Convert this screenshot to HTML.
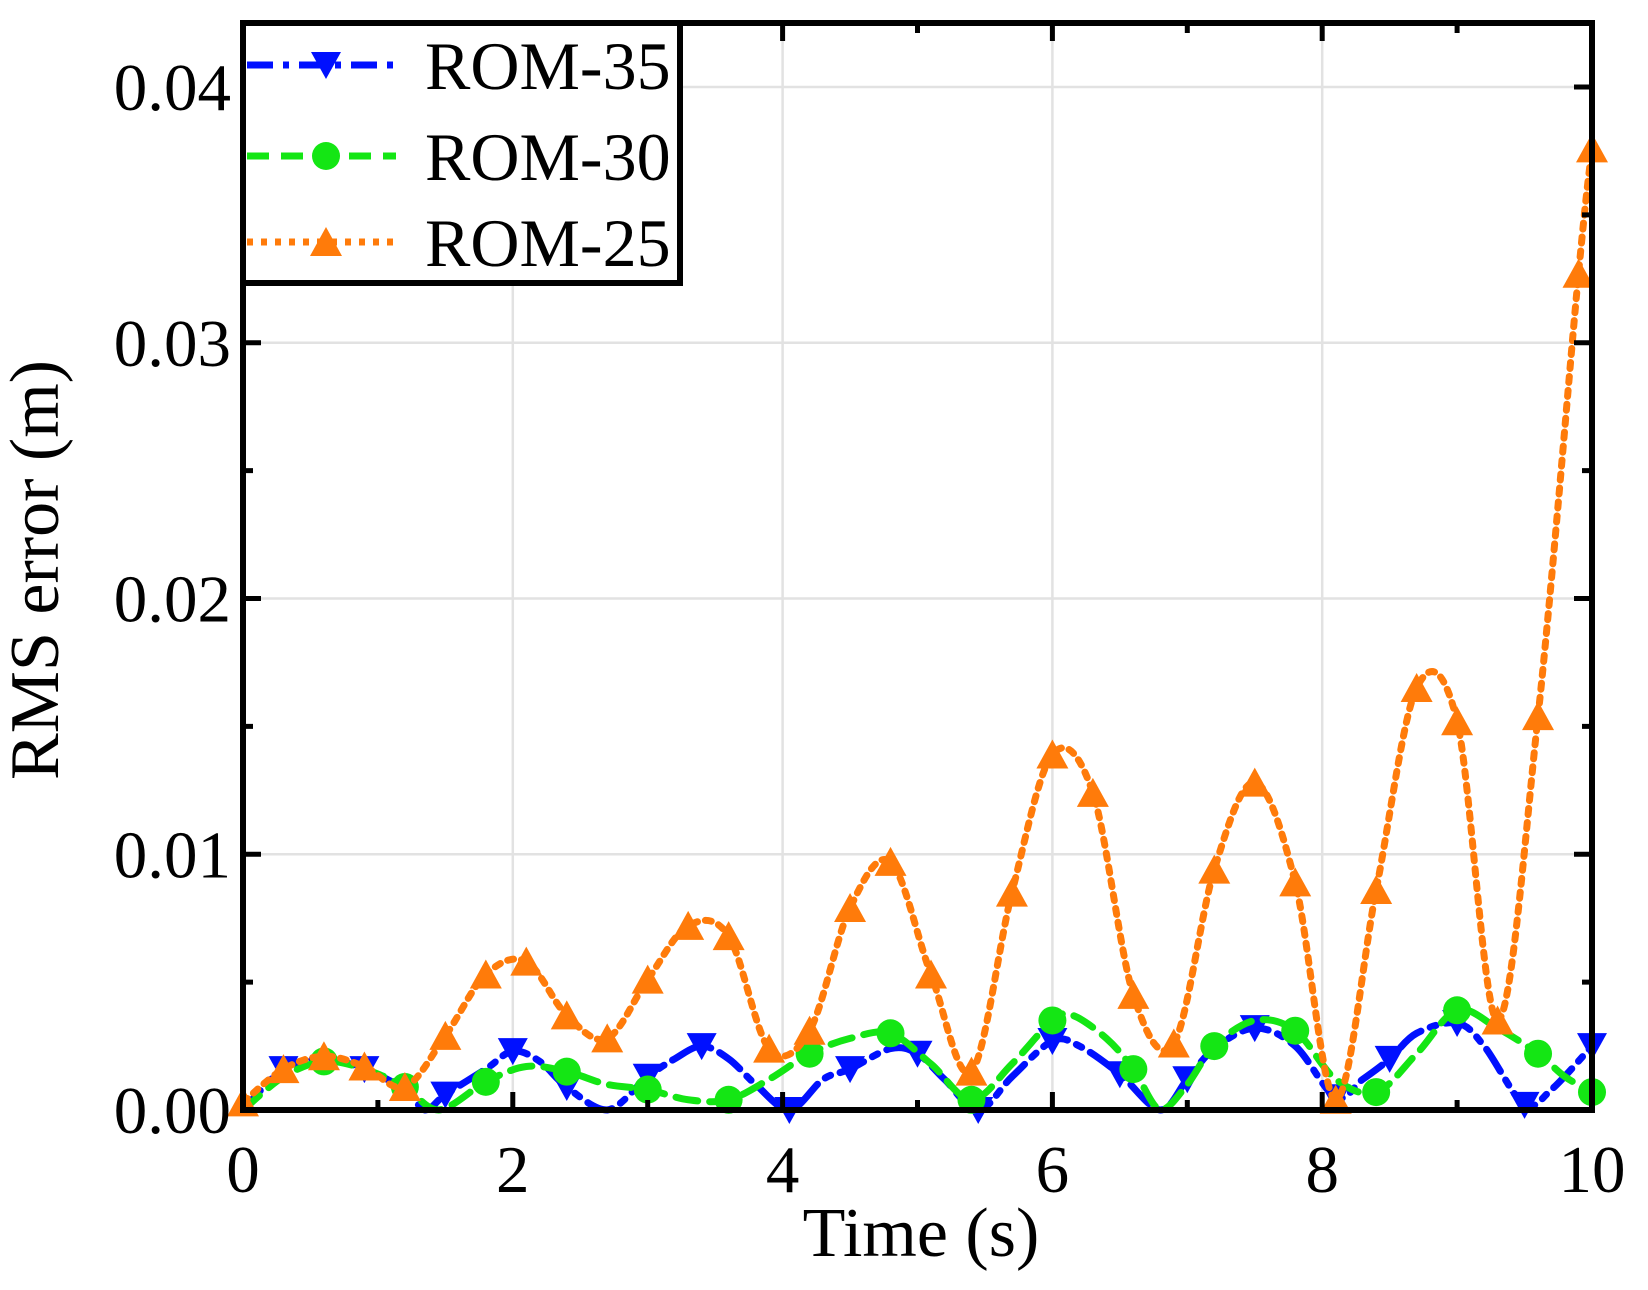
<!DOCTYPE html>
<html><head><meta charset="utf-8"><style>
html,body{margin:0;padding:0;background:#fff;}
svg{display:block;font-family:"Liberation Serif",serif;}
</style></head><body>
<svg id="chart" width="1648" height="1290" viewBox="0 0 1648 1290">
<g id="grid"></g>
<g id="series"></g>
<g id="axes"></g>
<text x="921" y="1256" font-size="70" text-anchor="middle">Time (s)</text>
<text transform="translate(58,570) rotate(-90)" font-size="70" text-anchor="middle">RMS error (m)</text>
<g id="legend"></g>
</svg>
<script>
const xTicks=[0,2,4,6,8,10];
const yTicks=[0,0.01,0.02,0.03,0.04];
const yTickLabels=["0.00","0.01","0.02","0.03","0.04"];
const rom25X=[0,0.3,0.6,0.9,1.2,1.5,1.8,2.1,2.4,2.7,3.0,3.3,3.6,3.9,4.2,4.5,4.8,5.1,5.4,5.7,6.0,6.3,6.6,6.9,7.2,7.5,7.8,8.1,8.4,8.7,9.0,9.3,9.6,9.9,10];
const rom25Y=[0.0003,0.0016,0.0021,0.0017,0.0009,0.0029,0.0053,0.0058,0.0037,0.0028,0.0051,0.0072,0.0068,0.0024,0.0031,0.0079,0.0097,0.0053,0.0015,0.0085,0.0139,0.0124,0.0045,0.0026,0.0094,0.0128,0.0089,0.0004,0.0086,0.0165,0.0152,0.0035,0.0154,0.0327,0.0376];
const rom35X=[0,0.3,0.6,0.9,1.2,1.35,1.5,1.8,2.0,2.2,2.4,2.7,3.0,3.2,3.4,3.6,3.8,4.05,4.3,4.5,4.8,5.0,5.2,5.45,5.7,6.0,6.2,6.5,6.8,7.0,7.2,7.5,7.8,8.1,8.3,8.5,8.7,9.0,9.2,9.5,9.7,10];
const rom35Y=[0,0.0016,0.002,0.0016,0.0008,0,0.0006,0.0016,0.0023,0.0019,0.0009,0,0.0013,0.002,0.0025,0.002,0.001,0,0.0012,0.0016,0.0024,0.0022,0.0012,0,0.0013,0.0027,0.0025,0.0014,0,0.0012,0.0024,0.0032,0.0025,0.0005,0.0012,0.002,0.003,0.0034,0.0025,0.0002,0.0008,0.0025];
const rom35Marker=[0,1,0,1,0,0,1,0,1,0,1,0,1,0,1,0,0,1,0,1,0,1,0,1,0,1,0,1,0,1,0,1,0,1,0,1,0,1,0,1,0,1];
const rom30X=[0,0.3,0.6,0.9,1.2,1.45,1.8,2.1,2.4,2.7,3.0,3.3,3.6,3.9,4.2,4.5,4.8,5.1,5.4,5.7,6.0,6.15,6.4,6.6,6.8,7.0,7.2,7.5,7.8,8.1,8.4,8.7,9.0,9.3,9.6,9.8,10];
const rom30Y=[0,0.0013,0.0019,0.0016,0.0009,0,0.0011,0.0017,0.0015,0.001,0.0008,0.0004,0.0004,0.0012,0.0022,0.0028,0.003,0.0018,0.0004,0.0018,0.0035,0.0037,0.0028,0.0016,0,0.001,0.0025,0.0035,0.0031,0.0012,0.0007,0.0022,0.0039,0.0032,0.0022,0.0013,0.0007];
const rom30Marker=[0,0,1,0,1,0,1,0,1,0,1,0,1,0,1,0,1,0,1,0,1,0,0,1,0,0,1,0,1,0,1,0,1,0,1,0,1];

const X0=243,X1=1592,Y0=1110,YT=23;
const xS=v=>X0+(X1-X0)*v/10;
const yS=v=>Y0-(Y0-87)*v/0.04;
const NS="http://www.w3.org/2000/svg";
function mk(tag,attrs,parent){const e=document.createElementNS(NS,tag);for(const k in attrs)e.setAttribute(k,attrs[k]);parent.appendChild(e);return e;}
const grid=document.getElementById('grid'),axes=document.getElementById('axes'),ser=document.getElementById('series'),leg=document.getElementById('legend');

xTicks.forEach(t=>{if(t>0&&t<10){const l=mk('line',{x1:xS(t),x2:xS(t),y1:YT,y2:Y0,stroke:'#e2e2e2','stroke-width':2.5},grid);

}});
yTicks.forEach(t=>{if(t>0){const l=mk('line',{x1:X0,x2:X1,y1:yS(t),y2:yS(t),stroke:'#e2e2e2','stroke-width':2.5},grid);

}});

function path(xs,ys){const p=xs.map((x,i)=>[xS(x),yS(ys[i])]);let d=`M${p[0][0]},${p[0][1]}`;
for(let i=0;i<p.length-1;i++){const a=p[Math.max(0,i-1)],b=p[i],c=p[i+1],e=p[Math.min(p.length-1,i+2)];
const c1=[b[0]+(c[0]-a[0])/6,b[1]+(c[1]-a[1])/6],c2=[c[0]-(e[0]-b[0])/6,c[1]-(e[1]-b[1])/6];
d+=` C${c1[0]},${Math.min(c1[1],Y0)} ${c2[0]},${Math.min(c2[1],Y0)} ${c[0]},${c[1]}`;}return d;}
function marker(type,cx,cy,color,parent){
 if(type==='down')return mk('polygon',{points:`${cx-15},${cy-13} ${cx+15},${cy-13} ${cx},${cy+14}`,fill:color},parent);
 if(type==='up')return mk('polygon',{points:`${cx-16},${cy+14} ${cx+16},${cy+14} ${cx},${cy-15}`,fill:color},parent);
 return mk('circle',{cx:cx,cy:cy,r:14,fill:color},parent);}

const defs=[
 {name:'rom-35',x:rom35X,y:rom35Y,m:rom35Marker,color:'#0010ff',dash:'26 10 6 10',type:'down'},
 {name:'rom-30',x:rom30X,y:rom30Y,m:rom30Marker,color:'#14e614',dash:'22 12',type:'circle'},
 {name:'rom-25',x:rom25X,y:rom25Y,m:null,color:'#ff7b0a',dash:'6 8',type:'up'}];
defs.forEach(s=>{const g=mk('g',{},ser);
 
 
 const pl=mk('path',{d:path(s.x,s.y),fill:'none',stroke:s.color,'stroke-width':7,'stroke-dasharray':s.dash,'stroke-linecap':'round'},g);
 
 
 s.x.forEach((x,i)=>{if(s.m&&!s.m[i])return;const mm=marker(s.type,xS(x),yS(s.y[i]),s.color,g);
  
  });});

mk('rect',{x:X0,y:YT,width:X1-X0,height:Y0-YT,fill:'none',stroke:'#000','stroke-width':6},axes);
for(let v=0;v<=10.001;v+=1){const x=xS(v),major=(Math.round(v)%2===0),L=major?18:10;
 mk('line',{x1:x,x2:x,y1:Y0,y2:Y0-L,stroke:'#000','stroke-width':5},axes);
 mk('line',{x1:x,x2:x,y1:YT,y2:YT+L,stroke:'#000','stroke-width':5},axes);}
for(let k=0;k<=8;k++){const v=k*0.005,y=yS(v),L=(k%2===0)?18:10;
 mk('line',{x1:X0,x2:X0+L,y1:y,y2:y,stroke:'#000','stroke-width':5},axes);
 mk('line',{x1:X1,x2:X1-L,y1:y,y2:y,stroke:'#000','stroke-width':5},axes);}
xTicks.forEach(t=>{const tx=mk('text',{x:xS(t),y:1192,'font-size':67,'text-anchor':'middle'},axes);tx.textContent=String(t);
 
 });
yTicks.forEach((t,i)=>{const tx=mk('text',{x:231,y:yS(t)+23,'font-size':67,'text-anchor':'end'},axes);tx.textContent=yTickLabels[i];
 
 });

const lb=mk('rect',{x:X0,y:YT,width:437,height:260,fill:'#fff',stroke:'#000','stroke-width':6},leg);


const labels=['ROM-35','ROM-30','ROM-25'],rows=[65,156,242];
defs.forEach((s,i)=>{const g=mk('g',{},leg);
 
 
 mk('line',{x1:X0+4,x2:396,y1:rows[i],y2:rows[i],stroke:s.color,'stroke-width':7,'stroke-dasharray':s.dash},g);
 marker(s.type,326,rows[i],s.color,g);
 const t=mk('text',{x:425,y:rows[i]+24,'font-size':68},g);t.textContent=labels[i];});
</script>
</body></html>
